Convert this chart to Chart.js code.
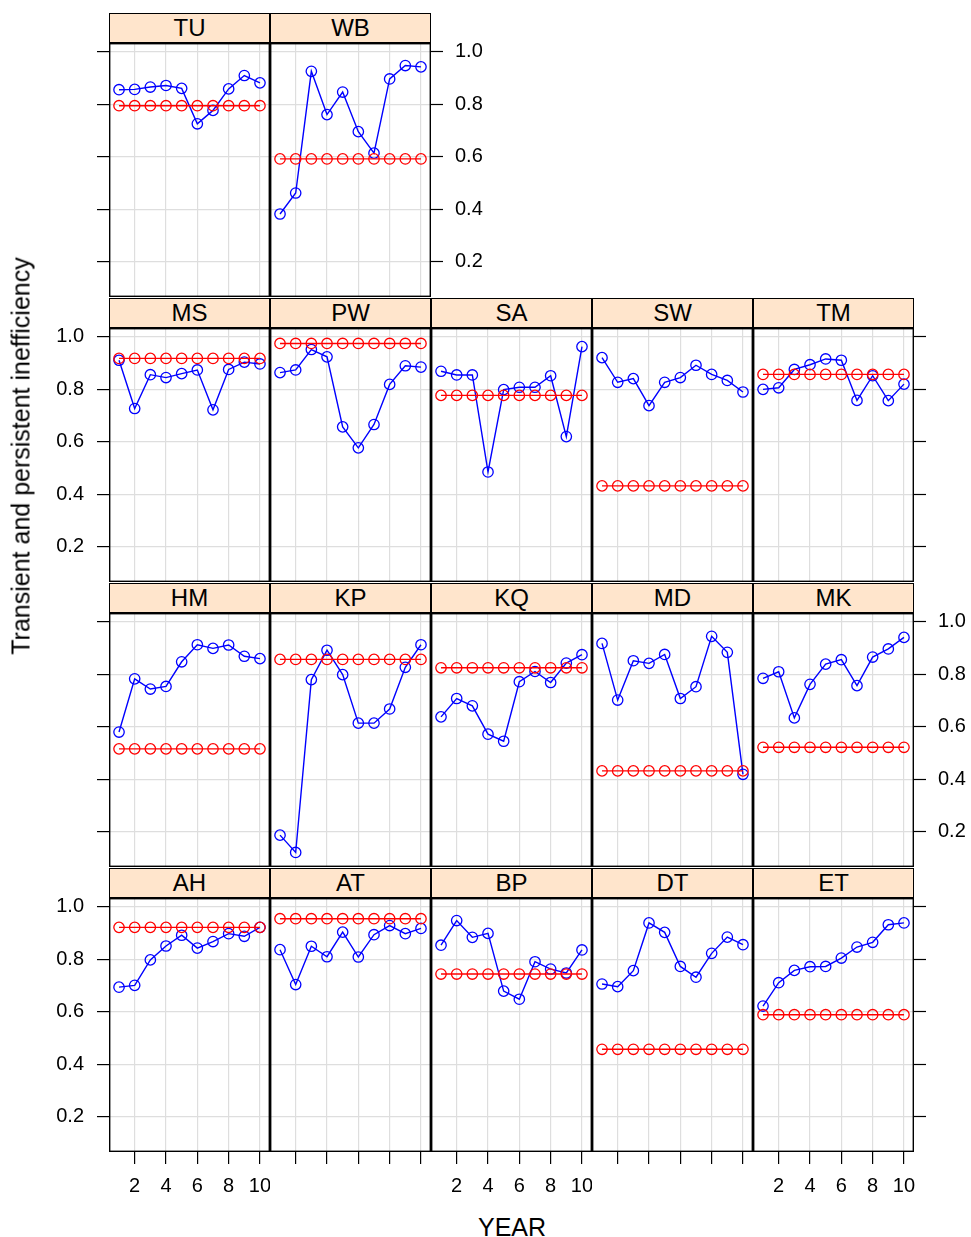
<!DOCTYPE html>
<html>
<head>
<meta charset="utf-8">
<script src="https://cdn.jsdelivr.net/npm/chart.js@4.4.1/dist/chart.umd.min.js"></script>
<style>
  html, body { margin: 0; padding: 0; background: #fff; }
  body { width: 971px; height: 1237px; position: relative; overflow: hidden;
         font-family: "Liberation Sans", Arial, sans-serif; color: #000; }
  .strip { position: absolute; box-sizing: border-box; width: 161px; height: 30px;
           background: #ffe5cc; border: 1px solid #000; text-align: center;
           font-size: 24px; line-height: 28px; }
  canvas { position: absolute; }
  .ylab { position: absolute; left: 21px; top: 456px; white-space: nowrap; font-size: 25px;
          transform: translate(-50%, -50%) rotate(-90deg); z-index: 2; }
  .xlab { position: absolute; left: 512px; top: 1227px; font-size: 25px;
          transform: translate(-50%, -50%); }
</style>
</head>
<body>
<div class="ylab">Transient and persistent inefficiency</div>
<div class="xlab">YEAR</div>
<script>
/* ===== DATA ===== */
const panelNames = ["AH", "AT", "BP", "DT", "ET", "HM", "KP", "KQ", "MD", "MK",
                    "MS", "PW", "SA", "SW", "TM", "TU", "WB"];
const years = [1, 2, 3, 4, 5, 6, 7, 8, 9, 10];
const xTicks = [2, 4, 6, 8, 10];
const yTicks = [0.2, 0.4, 0.6, 0.8, 1.0];

// blue: transient inefficiency per panel, years 1..10
const transientVals = [
  [0.694, 0.701, 0.798, 0.851, 0.892, 0.843, 0.868, 0.898, 0.888, 0.922], // AH
  [0.837, 0.704, 0.850, 0.810, 0.904, 0.809, 0.894, 0.929, 0.898, 0.918], // AT
  [0.854, 0.948, 0.884, 0.899, 0.679, 0.648, 0.791, 0.763, 0.748, 0.836], // BP
  [0.706, 0.696, 0.757, 0.939, 0.903, 0.773, 0.732, 0.823, 0.885, 0.856], // DT
  [0.622, 0.711, 0.758, 0.772, 0.773, 0.805, 0.847, 0.865, 0.932, 0.939], // ET
  [0.580, 0.783, 0.744, 0.754, 0.848, 0.913, 0.899, 0.912, 0.869, 0.860], // HM
  [0.187, 0.121, 0.780, 0.892, 0.799, 0.614, 0.614, 0.668, 0.827, 0.913], // KP
  [0.638, 0.708, 0.680, 0.572, 0.545, 0.772, 0.811, 0.769, 0.843, 0.875], // KQ
  [0.918, 0.702, 0.852, 0.842, 0.876, 0.708, 0.753, 0.945, 0.884, 0.419], // MD
  [0.785, 0.810, 0.634, 0.762, 0.839, 0.856, 0.757, 0.866, 0.897, 0.941], // MK
  [0.911, 0.727, 0.856, 0.845, 0.860, 0.874, 0.722, 0.876, 0.904, 0.897], // MS
  [0.864, 0.874, 0.952, 0.924, 0.657, 0.577, 0.666, 0.819, 0.890, 0.885], // PW
  [0.869, 0.855, 0.855, 0.485, 0.799, 0.808, 0.808, 0.852, 0.620, 0.963], // SA
  [0.921, 0.827, 0.841, 0.738, 0.827, 0.845, 0.892, 0.857, 0.834, 0.790], // SW
  [0.800, 0.806, 0.876, 0.894, 0.916, 0.911, 0.758, 0.852, 0.757, 0.820], // TM
  [0.856, 0.857, 0.866, 0.872, 0.861, 0.726, 0.777, 0.859, 0.910, 0.882], // TU
  [0.382, 0.462, 0.926, 0.761, 0.847, 0.696, 0.614, 0.897, 0.948, 0.943]  // WB
];

// red: persistent inefficiency (same level every year)
const persistentVals = [0.922, 0.955, 0.744, 0.457, 0.589, 0.516, 0.857, 0.825, 0.432,
                        0.522, 0.918, 0.975, 0.777, 0.432, 0.857, 0.795, 0.592];

/* ===== LAYOUT ===== */
const X_MIN = 0.36, X_MAX = 10.64;
const Y_MIN = 0.0655, Y_MAX = 1.034;
const PANEL_W = 161, PANEL_H = 254, STRIP_H = 30, ROW_STEP = 285;
const LEFT0 = 109, TOP0 = 13;
const NCOL = 5, NROW = 4;
const GRID = "#dedede";

const framePlugin = {
  id: "frame",
  afterDraw(chart) {
    const { ctx, chartArea: a } = chart;
    ctx.save();
    ctx.strokeStyle = "#000";
    ctx.lineWidth = 1.4;
    ctx.strokeRect(a.left + 0.7, a.top + 0.7, a.width - 1.4, a.height - 1.4);
    ctx.restore();
  }
};

function fixSize(size) {
  return s => {
    if (s.isHorizontal()) s.height = size; else s.width = size;
    s.paddingLeft = s.paddingRight = s.paddingTop = s.paddingBottom = 0;
  };
}
function setTicks(list) {
  return s => { s.ticks = list.map(v => ({ value: v })); };
}

Chart.defaults.font.family = '"Liberation Sans", Arial, sans-serif';
Chart.defaults.font.size = 20;
Chart.defaults.color = "#000";

panelNames.forEach((name, i) => {
  const col = i % NCOL;
  const t = NROW - 1 - Math.floor(i / NCOL);        // row from top
  const panelLeft = LEFT0 + col * PANEL_W;
  const stripTop = TOP0 + t * ROW_STEP;
  const panelTop = stripTop + STRIP_H;

  const leftEdge = col === 0;
  const rightEdge = col === NCOL - 1 || i === panelNames.length - 1;
  const bottomEdge = t === NROW - 1;
  const leftLabels = leftEdge && (t === 1 || t === 3);
  const rightLabels = rightEdge && (t === 0 || t === 2);
  const bottomLabels = bottomEdge && col % 2 === 0;

  const L = leftEdge ? 109 : 0;
  const R = rightEdge ? 57 : 0;
  const B = bottomEdge ? 60 : 0;

  const strip = document.createElement("div");
  strip.className = "strip";
  strip.style.left = panelLeft + "px";
  strip.style.top = stripTop + "px";
  strip.textContent = name;
  document.body.appendChild(strip);

  const cv = document.createElement("canvas");
  cv.width = L + PANEL_W + R;
  cv.height = PANEL_H + B;
  cv.style.left = (panelLeft - L) + "px";
  cv.style.top = panelTop + "px";
  cv.style.width = cv.width + "px";
  cv.style.height = cv.height + "px";
  document.body.appendChild(cv);

  const point = {
    pointStyle: "circle",
    pointRadius: 5.2,
    pointBorderWidth: 1.3,
    pointBackgroundColor: "rgba(0,0,0,0)",
    borderWidth: 1.4,
    tension: 0,
    fill: false
  };

  new Chart(cv, {
    type: "line",
    data: {
      datasets: [
        {
          ...point,
          data: years.map(x => ({ x, y: persistentVals[i] })),
          borderColor: "#ff0000",
          pointBorderColor: "#ff0000"
        },
        {
          ...point,
          data: years.map((x, k) => ({ x, y: transientVals[i][k] })),
          borderColor: "#0000ff",
          pointBorderColor: "#0000ff"
        }
      ]
    },
    options: {
      responsive: false,
      animation: false,
      devicePixelRatio: 1,
      layout: { padding: 0, autoPadding: false },
      plugins: { legend: { display: false }, tooltip: { enabled: false } },
      scales: {
        x: {
          type: "linear",
          position: "bottom",
          min: X_MIN,
          max: X_MAX,
          afterBuildTicks: setTicks(xTicks),
          afterFit: fixSize(B),
          border: { display: false },
          grid: { color: GRID, lineWidth: 1.2, drawTicks: bottomEdge, tickLength: 12,
                  tickColor: "#000", tickWidth: 1.2 },
          ticks: { display: bottomLabels, padding: 10, maxRotation: 0, autoSkip: false }
        },
        y: {
          type: "linear",
          position: "left",
          min: Y_MIN,
          max: Y_MAX,
          afterBuildTicks: setTicks(yTicks),
          afterFit: fixSize(L),
          border: { display: false },
          grid: { color: GRID, lineWidth: 1.2, drawTicks: leftEdge, tickLength: 12,
                  tickColor: "#000", tickWidth: 1.2 },
          ticks: { display: leftLabels, padding: 13, callback: v => v.toFixed(1) }
        },
        y2: {
          type: "linear",
          display: rightEdge,
          position: "right",
          min: Y_MIN,
          max: Y_MAX,
          afterBuildTicks: setTicks(yTicks),
          afterFit: fixSize(R),
          border: { display: false },
          grid: { drawOnChartArea: false, drawTicks: true, tickLength: 12,
                  tickColor: "#000", tickWidth: 1.2 },
          ticks: { display: rightLabels, padding: 12, callback: v => v.toFixed(1) }
        }
      }
    },
    plugins: [framePlugin]
  });
});
</script>
</body>
</html>
